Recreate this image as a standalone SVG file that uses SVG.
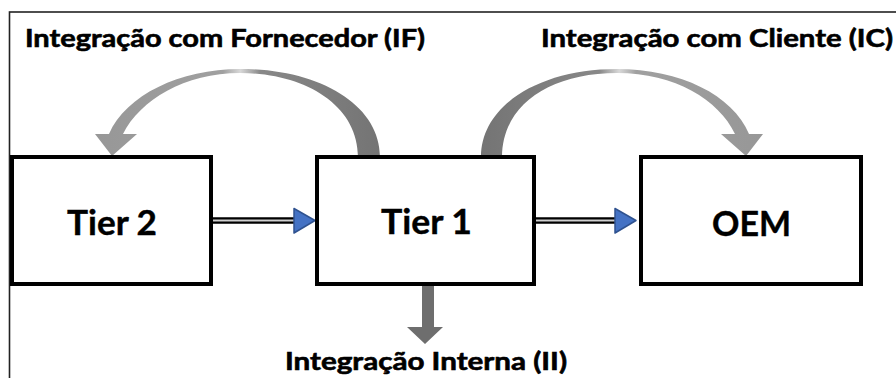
<svg xmlns="http://www.w3.org/2000/svg" width="896" height="378" viewBox="0 0 896 378">
  <style>
    .frame { fill: none; stroke: #222; stroke-width: 1.6; }
    .box { fill: #fff; stroke: #000; stroke-width: 4; }
    .label { font-family: Lato, "Liberation Sans", sans-serif; font-weight: bold; fill: #000; }
    .title { font-size: 24px; stroke: #000; stroke-width: 0.6; }
    .name { font-size: 34px; stroke: #000; stroke-width: 0.4; }
    .rail-outer { stroke: #000; stroke-width: 6.5; fill: none; }
    .rail-inner { stroke: #d0d0d0; stroke-width: 2; fill: none; }
    .head { fill: #4472c4; stroke: #2f528f; stroke-width: 1.5; stroke-linejoin: round; }
  </style>
  <defs>
    <linearGradient id="gradIF" gradientUnits="userSpaceOnUse" x1="95" y1="0" x2="380" y2="0">
      <stop offset="0" stop-color="#979797"/>
      <stop offset="0.45" stop-color="#a0a0a0"/>
      <stop offset="0.51" stop-color="#d8d8d8"/>
      <stop offset="0.58" stop-color="#888"/>
      <stop offset="1" stop-color="#747474"/>
    </linearGradient>
    <linearGradient id="gradIC" gradientUnits="userSpaceOnUse" x1="481" y1="0" x2="763" y2="0">
      <stop offset="0" stop-color="#747474"/>
      <stop offset="0.42" stop-color="#888"/>
      <stop offset="0.49" stop-color="#d8d8d8"/>
      <stop offset="0.55" stop-color="#a0a0a0"/>
      <stop offset="1" stop-color="#979797"/>
    </linearGradient>
  </defs>

  <rect width="896" height="378" fill="#fff"/>
  <!-- outer frame, open to the right and bottom -->
  <rect class="frame" x="9.5" y="12" width="900" height="400"/>

  <g id="connectors">
    <!-- Tier 2 -> Tier 1 -->
    <line class="rail-outer" x1="213" y1="220.5" x2="300" y2="220.5"/>
    <line class="rail-inner" x1="213" y1="220.5" x2="300" y2="220.5"/>
    <polygon class="head" points="294,208.5 315,220.5 294,233"/>
    <!-- Tier 1 -> OEM -->
    <line class="rail-outer" x1="535" y1="220.5" x2="620" y2="220.5"/>
    <line class="rail-inner" x1="535" y1="220.5" x2="620" y2="220.5"/>
    <polygon class="head" points="615,208.5 636,220.5 615,233"/>
    <!-- supplier integration arc -->
    <path fill="url(#gradIF)" d="M380,157 C380,105 320,69 240,69 C180,69 126,95 109,134 L95,134 L112,156 L137,134 L123,134 C140,100 185,73 240,73 C305,73 358,105 358,157 Z"/>
    <!-- customer integration arc -->
    <path fill="url(#gradIC)" d="M481,157 C481,105 540,69 617,69 C680,69 733,95 749,134 L763,134 L746,156 L721,134 L735,134 C719,100 675,73 617,73 C550,73 502,105 502,157 Z"/>
    <!-- internal integration arrow -->
    <polygon fill="#6e6e6e" points="422,286 434,286 434,327 443,327 425,344 407,327 422,327"/>
  </g>

  <g id="tier2">
    <rect class="box" x="12" y="157" width="199" height="127"/>
    <text class="label name" x="67" y="235" textLength="90" lengthAdjust="spacingAndGlyphs">Tier 2</text>
  </g>
  <g id="tier1">
    <rect class="box" x="317" y="157" width="217" height="127"/>
    <text class="label name" x="381" y="234" textLength="91" lengthAdjust="spacingAndGlyphs">Tier 1</text>
  </g>
  <g id="oem">
    <rect class="box" x="641" y="157" width="220" height="127"/>
    <text class="label name" x="712" y="236" textLength="79" lengthAdjust="spacingAndGlyphs">OEM</text>
  </g>

  <g id="labels">
    <text class="label title" x="25" y="47" textLength="400" lengthAdjust="spacingAndGlyphs">Integração com Fornecedor (IF)</text>
    <text class="label title" x="541" y="47" textLength="352" lengthAdjust="spacingAndGlyphs">Integração com Cliente (IC)</text>
    <text class="label title" x="285" y="370" textLength="282" lengthAdjust="spacingAndGlyphs">Integração Interna (II)</text>
  </g>
</svg>
